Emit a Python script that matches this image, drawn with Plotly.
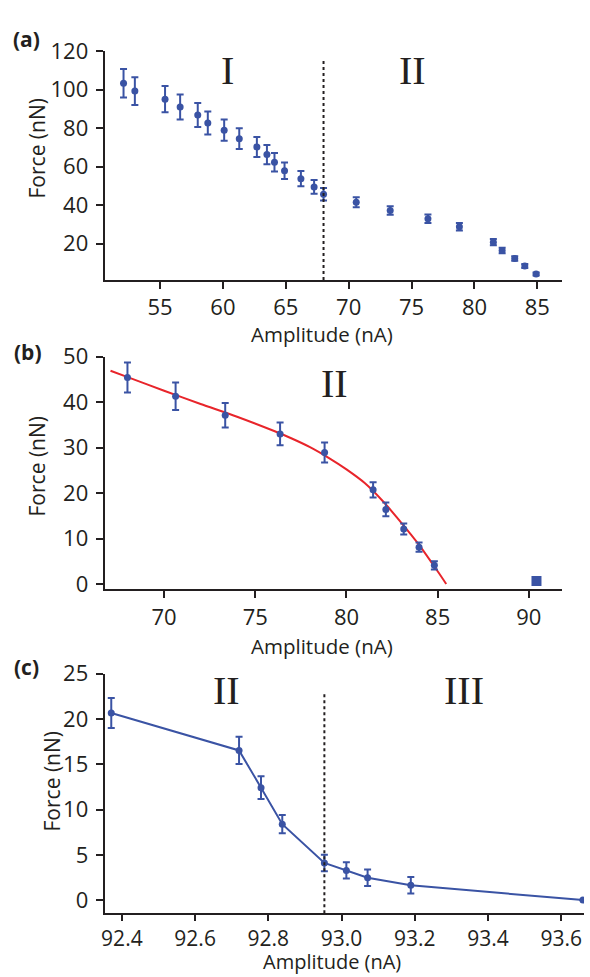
import plotly.graph_objects as go

W, H = 590, 977
BLUE = '#3a53a4'
RED = '#e8252b'
INK = '#231f20'

# (a) full range
amp_a = [52.1, 53.0, 55.4, 56.6, 58.0, 58.8, 60.1, 61.3, 62.7, 63.5, 64.1, 64.9,
         66.2, 67.25, 68.0, 70.6, 73.3, 76.3, 78.8, 81.5, 82.2, 83.2, 84.0, 84.9]
force_a = [103.3, 99.2, 95.0, 90.9, 86.8, 82.6, 78.9, 74.5, 70.2, 66.2, 62.2, 57.8,
           53.7, 49.4, 45.6, 41.4, 37.1, 32.9, 28.7, 20.7, 16.4, 12.2, 8.3, 4.2]
err_a = [7.4, 7.2, 6.8, 6.5, 6.2, 6.0, 5.5, 5.4, 5.2, 5.0, 4.8, 4.3,
         4.0, 3.6, 3.3, 2.6, 2.2, 2.2, 2.0, 1.6, 1.4, 1.2, 1.0, 0.8]

# (b) regime II with fit
amp_b = [67.99, 70.63, 73.35, 76.36, 78.8, 81.46, 82.16, 83.14, 83.98, 84.82]
force_b = [45.4, 41.3, 37.1, 33.0, 28.9, 20.7, 16.4, 12.1, 8.1, 4.1]
err_b = [3.3, 3.0, 2.7, 2.5, 2.2, 1.7, 1.5, 1.2, 1.0, 0.9]
amp_b_sq = [90.42]
force_b_sq = [0.65]
fit_amp = [67.06, 68, 70, 72, 74, 76, 77, 78, 79, 80, 81, 82, 83, 84, 85, 85.47]
fit_force = [46.9, 45.5, 42.5, 39.6, 36.8, 33.7, 32.0, 30.1, 27.8, 25.2, 22.2, 18.2, 13.5, 8.5, 2.8, 0.0]

# (c) regime II -> III
amp_c = [92.371, 92.72, 92.78, 92.838, 92.953, 93.013, 93.071, 93.189, 93.659]
force_c = [20.67, 16.53, 12.42, 8.39, 4.1, 3.28, 2.47, 1.64, 0.0]
err_c = [1.65, 1.5, 1.25, 1.0, 0.9, 0.9, 0.9, 0.9, None]

ticks_a_x = [55, 60, 65, 70, 75, 80, 85]
ticks_a_y = [20, 40, 60, 80, 100, 120]
ticks_b_x = [70, 75, 80, 85, 90]
ticks_b_y = [0, 10, 20, 30, 40, 50]
ticks_c_x = [92.4, 92.6, 92.8, 93.0, 93.2, 93.4, 93.6]
ticks_c_y = [0, 5, 10, 15, 20, 25]


def px(x):
    return x / W


def py(y):
    return 1 - y / H


err_style = dict(type='data', color=BLUE, thickness=2, width=3.5)
mk = dict(color=BLUE, size=7)

fig = go.Figure()
fig.add_trace(go.Scatter(x=amp_a, y=force_a, mode='markers', marker=mk,
                         error_y=dict(array=err_a, **err_style),
                         xaxis='x', yaxis='y'))
fig.add_trace(go.Scatter(x=fit_amp, y=fit_force, mode='lines',
                         line=dict(color=RED, width=2, shape='spline', smoothing=0.8),
                         xaxis='x2', yaxis='y2'))
fig.add_trace(go.Scatter(x=amp_b, y=force_b, mode='markers', marker=mk,
                         error_y=dict(array=err_b, **err_style),
                         xaxis='x2', yaxis='y2'))
fig.add_trace(go.Scatter(x=amp_b_sq, y=force_b_sq, mode='markers',
                         marker=dict(color=BLUE, size=10, symbol='square'),
                         xaxis='x2', yaxis='y2'))
fig.add_trace(go.Scatter(x=amp_c, y=force_c, mode='lines+markers', marker=mk,
                         line=dict(color=BLUE, width=2),
                         error_y=dict(array=err_c, **err_style),
                         xaxis='x3', yaxis='y3'))

axis_common = dict(showline=True, linecolor=INK, linewidth=2, ticks='outside',
                   ticklen=7, tickwidth=2, tickcolor=INK, showgrid=False,
                   zeroline=False, tickfont=dict(family='Open Sans', size=22, color=INK))
c_xaxis = dict(axis_common, ticklen=6, tickfont=dict(family='Open Sans', size=21, color=INK))

fig.update_layout(
    width=W, height=H, margin=dict(l=0, r=0, t=0, b=0),
    paper_bgcolor='white', plot_bgcolor='white', showlegend=False,
    xaxis=dict(domain=[0.1732, 0.9517], range=[50.6, 86.93], tickvals=ticks_a_x,
               anchor='y', **axis_common),
    yaxis=dict(domain=[0.7229, 0.9632], range=[1, 120], tickvals=ticks_a_y,
               anchor='x', ticklabelstandoff=3, **axis_common),
    xaxis2=dict(domain=[0.1732, 0.9517], range=[66.74, 91.8], tickvals=ticks_b_x,
                anchor='y2', **axis_common),
    yaxis2=dict(domain=[0.3985, 0.6425], range=[-1.16, 50], tickvals=ticks_b_y,
                anchor='x2', ticklabelstandoff=3, **axis_common),
    xaxis3=dict(domain=[0.1732, 0.9898], range=[92.353, 93.662], tickvals=ticks_c_x,
                tickformat='.1f', anchor='y3', **c_xaxis),
    yaxis3=dict(domain=[0.0586, 0.3098], range=[-1.44, 25], tickvals=ticks_c_y,
                anchor='x3', ticklabelstandoff=3, **axis_common),
)

# region boundaries
fig.add_shape(type='line', x0=68.0, x1=68.0, y0=1, y1=116.2, xref='x', yref='y',
              line=dict(color=INK, width=2, dash='dot'))
fig.add_shape(type='line', x0=92.953, x1=92.953, y0=-1.44, y1=22.9, xref='x3', yref='y3',
              line=dict(color=INK, width=2, dash='dot'))

roman = dict(family='Liberation Serif', size=40, color=INK)
for txt, x, y, xr, yr in [('I', 60.35, 110, 'x', 'y'), ('II', 75.05, 110, 'x', 'y'),
                          ('II', 79.35, 44.1, 'x2', 'y2'),
                          ('II', 92.686, 23.1, 'x3', 'y3'), ('III', 93.334, 23.1, 'x3', 'y3')]:
    fig.add_annotation(text=txt, x=x, y=y, xref=xr, yref=yr, showarrow=False, font=roman,
                       xanchor='center', yanchor='middle')

bold = dict(family='Open Sans', size=21, color=INK)
for txt, x, y in [('<b>(a)</b>', 24, 24), ('<b>(b)</b>', 25, 344), ('<b>(c)</b>', 24, 667)]:
    fig.add_annotation(text=txt, x=px(x), y=py(y), xref='paper', yref='paper',
                       showarrow=False, font=bold, xanchor='center', yanchor='middle')
for x, y, s in [(321, 326, 20.5), (321, 646, 20.5), (331, 969, 20)]:
    fig.add_annotation(text='Amplitude (nA)', x=px(x), y=py(y), xref='paper', yref='paper',
                       showarrow=False, font=dict(family='Open Sans', size=s, color=INK),
                       xanchor='center', yanchor='middle')
for x, y in [(34, 136), (34, 462), (49, 785)]:
    fig.add_annotation(text='Force (nN)', x=px(x), y=py(y), xref='paper', yref='paper',
                       showarrow=False, font=dict(family='Open Sans', size=21, color=INK),
                       textangle=-90, xanchor='center', yanchor='middle')

page_fix = """
var de = document.documentElement, b = document.body;
de.style.margin = '0'; de.style.padding = '0'; de.style.overflow = 'hidden'; de.style.height = '977px';
b.style.margin = '0'; b.style.padding = '0'; b.style.overflow = 'hidden'; b.style.height = '977px';
var g = document.getElementById('{plot_id}');
g.style.position = 'fixed'; g.style.left = '0px'; g.style.top = '0px';
"""
fig.write_html('out.html', config={'displayModeBar': False}, post_script=page_fix)
